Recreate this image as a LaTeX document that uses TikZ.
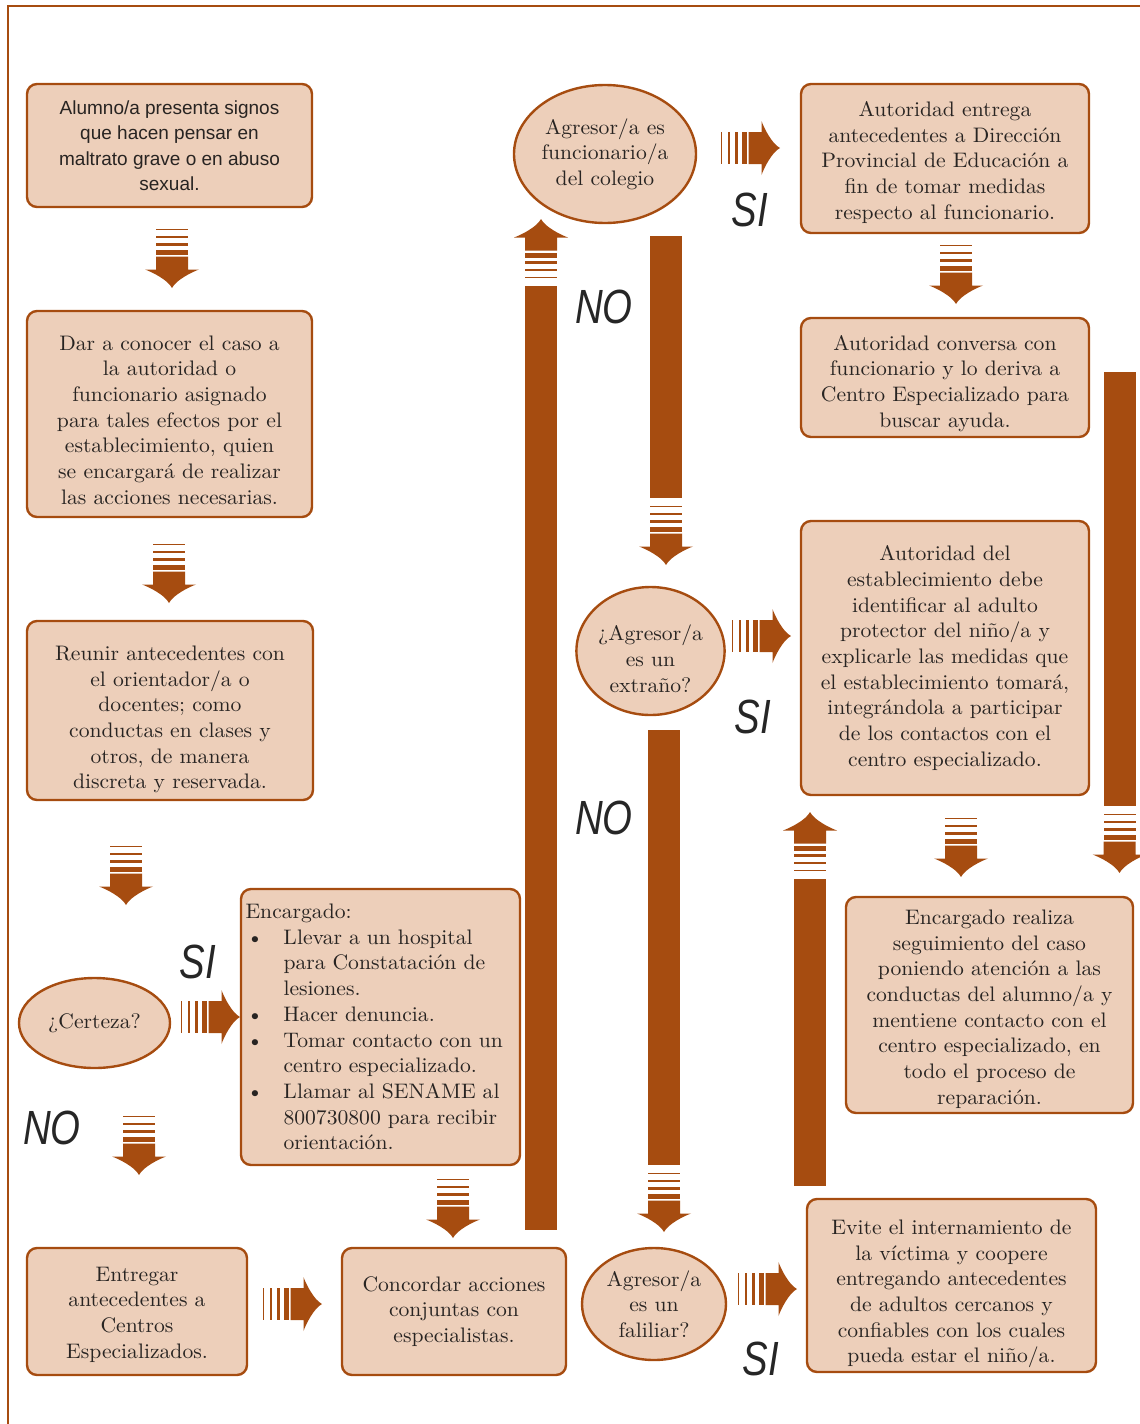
\documentclass[tikz,border=0pt]{standalone}
\usepackage{fontspec}
\usetikzlibrary{shapes.geometric}
\setmainfont{lmroman10-regular}[Extension=.otf,FakeStretch=1.03]
\newfontfamily\sansbox{Liberation Sans}
\definecolor{cafe}{RGB}{166,76,16}
\definecolor{piel}{RGB}{237,207,186}
\definecolor{tinta}{RGB}{40,36,34}
\newcommand{\rotulo}[1]{\scalebox{0.8}[1]{\sansbox\itshape #1}}
\newcommand{\vineta}{\makebox[38pt][l]{\hspace{1pt}\textbullet}}
\newcommand{\sangria}{\hspace*{38pt}}
\newcommand{\bajar}[1]{\rule{0pt}{#1pt}}
\tikzset{
  pics/flecha/.style={code={
    \fill[cafe] (0,0) .. controls (-8,-4) and (-16,-20) .. (-18.5,-27) -- (-18.5,-16) -- (-31.5,-16)
      -- (-31.5,16) -- (-18.5,16) -- (-18.5,27) .. controls (-16,20) and (-8,4) .. (0,0) -- cycle;
    \foreach \a/\b in {33.5/38.5,41.7/45,50.3/52.3,57.7/59}
      \fill[cafe] (-\a,-16) rectangle (-\b,16);
    \ifdim #1pt>0pt \fill[cafe] (-67,-16) rectangle (-67-#1,16); \fi
  }},
  pics/flecha/.default=0
}
\begin{document}
\begin{tikzpicture}[x=1pt,y=-1pt,
  caja/.style={draw=cafe,line width=2.4pt,fill=piel,rounded corners=10pt,align=center,inner sep=0pt,
    text=tinta,font=\fontsize{21}{25.7}\selectfont},
  ovalo/.style={ellipse,draw=cafe,line width=2.4pt,fill=piel,align=center,inner sep=0pt,
    text=tinta,font=\fontsize{21}{25.7}\selectfont},
  si/.style={font=\fontsize{48}{48}\selectfont,text=black!85}]
\useasboundingbox (0,0) rectangle (1140,1424);
\draw[cafe,line width=2pt] (8,1430) -- (8,6) -- (1150,6);

% columna izquierda
\node[caja,font=\sansbox\fontsize{19}{25.5}\selectfont,minimum width=285pt,minimum height=123pt] (alumno) at (169.5,145.5)
  {Alumno/a presenta signos\\que hacen pensar en\\maltrato grave o en abuso\\sexual.};
\node[caja,minimum width=285pt,minimum height=206pt] (conocer) at (169.5,414)
  {\bajar{26.6}Dar a conocer el caso a\\la autoridad o\\funcionario asignado\\para tales efectos por el\\establecimiento, quien\\se encargará de realizar\\las acciones necesarias.};
\node[caja,minimum width=286pt,minimum height=179pt] (reunir) at (170,710.5)
  {\bajar{32.6}Reunir antecedentes con\\el orientador/a o\\docentes; como\\conductas en clases y\\otros, de manera\\discreta y reservada.};
\node[ovalo,minimum width=151pt,minimum height=90pt] (certeza) at (94.5,1023) {¿Certeza?};
\node[caja,align=left,text width=270pt,inner xsep=4.5pt,minimum height=276pt] (encargado) at (380.5,1027)
  {Encargado:\\
   \vineta Llevar a un hospital\\ \sangria para Constatación de\\ \sangria lesiones.\\
   \vineta Hacer denuncia.\\
   \vineta Tomar contacto con un\\ \sangria centro especializado.\\
   \vineta Llamar al SENAME al\\ \sangria 800730800 para recibir\\ \sangria orientación.};
\node[caja,minimum width=220pt,minimum height=127pt] (entregar) at (137,1311.5)
  {\bajar{20.6}Entregar\\antecedentes a\\Centros\\Especializados.};
\node[caja,minimum width=224pt,minimum height=127pt] (concordar) at (454,1311.5)
  {Concordar acciones\\conjuntas con\\especialistas.};

% columna central
\node[ovalo,minimum width=182pt,minimum height=138pt] (funcionario) at (605,154)
  {Agresor/a es\\funcionario/a\\del colegio};
\node[ovalo,minimum width=147pt,minimum height=128pt] (extrano) at (650.5,651)
  {\bajar{31.5}¿Agresor/a\\es un\\extraño?};
\node[ovalo,minimum width=144pt,minimum height=112pt] (familiar) at (654,1304)
  {Agresor/a\\es un\\faliliar?};

% columna derecha
\node[caja,minimum width=288pt,minimum height=149pt] (entrega) at (945,158.5)
  {\bajar{22.6}Autoridad entrega\\antecedentes a Dirección\\Provincial de Educación a\\fin de tomar medidas\\respecto al funcionario.};
\node[caja,minimum width=288pt,minimum height=119pt] (conversa) at (945,377.5)
  {\bajar{26.6}Autoridad conversa con\\funcionario y lo deriva a\\Centro Especializado para\\buscar ayuda.};
\node[caja,minimum width=288pt,minimum height=274pt] (autoridad) at (945,658)
  {Autoridad del\\establecimiento debe\\identificar al adulto\\protector del niño/a y\\explicarle las medidas que\\el establecimiento tomará,\\integrándola a participar\\de los contactos con el\\centro especializado.};
\node[caja,minimum width=287pt,minimum height=216pt] (seguimiento) at (989.5,1005)
  {\bajar{22.6}Encargado realiza\\seguimiento del caso\\poniendo atención a las\\conductas del alumno/a y\\mentiene contacto con el\\centro especializado, en\\todo el proceso de\\reparación.};
\node[caja,minimum width=289pt,minimum height=173pt] (evite) at (951.5,1285.5)
  {\bajar{31.6}Evite el internamiento de\\la víctima y coopere\\entregando antecedentes\\de adultos cercanos y\\confiables con los cuales\\pueda estar el niño/a.};

% SI / NO
\node[si] (si1) at (198,962) {\rotulo{SI}};
\node[si] (no1) at (52,1128) {\rotulo{NO}};
\node[si] (si2) at (750,210) {\rotulo{SI}};
\node[si] (no2) at (604,307) {\rotulo{NO}};
\node[si] (si3) at (753,717) {\rotulo{SI}};
\node[si] (no3) at (604,818) {\rotulo{NO}};
\node[si] (si4) at (761,1359) {\rotulo{SI}};

% flechas
\pic[rotate=-90] at (172,288) {flecha};
\pic[rotate=-90] at (169,603) {flecha};
\pic[rotate=-90] at (126,905) {flecha};
\pic at (240,1017) {flecha};
\pic[rotate=-90] at (139,1175) {flecha};
\pic at (322,1304) {flecha};
\pic[rotate=-90] at (453,1238) {flecha};
\pic[rotate=90] at (541,219) {flecha=944};
\pic at (780,148) {flecha};
\pic[rotate=-90] at (956,304) {flecha};
\pic[rotate=-90] at (666,565) {flecha=262};
\pic at (791,636) {flecha};
\pic[rotate=-90] at (1119.5,873) {flecha=434};
\pic[rotate=-90] at (664,1232) {flecha=435};
\pic[rotate=90] at (810,812) {flecha=307};
\pic[rotate=-90] at (961,877) {flecha};
\pic at (797,1289) {flecha};
\end{tikzpicture}
\end{document}
